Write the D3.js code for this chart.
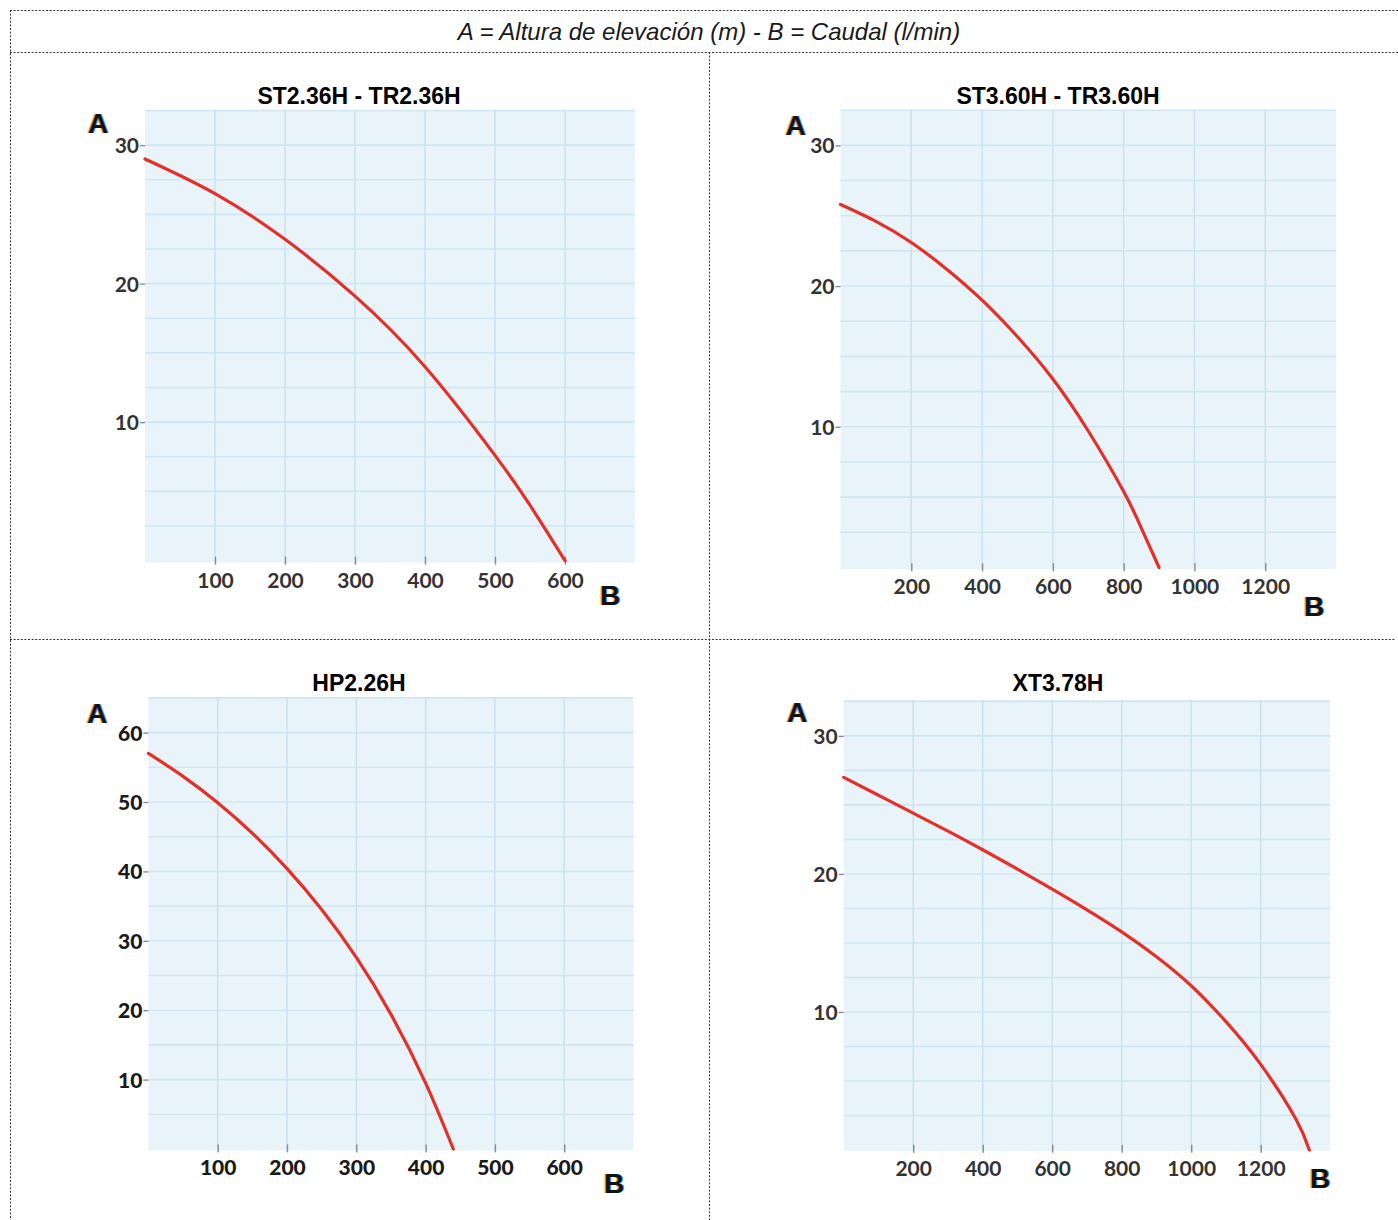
<!DOCTYPE html>
<html><head><meta charset="utf-8">
<script src="https://cdn.jsdelivr.net/npm/d3@7"></script>
<style>body{margin:0;background:#fff} svg{display:block}</style>
</head><body>
<svg id="c" width="1398" height="1220"></svg>
<script>
const headerText = "A = Altura de elevación (m) - B = Caudal (l/min)";
const titles = ["ST2.36H - TR2.36H", "ST3.60H - TR3.60H", "HP2.26H", "XT3.78H"];
const axisLetterY = "A";
const axisLetterX = "B";

// Panel 1: ST2.36H - TR2.36H
const flow1 = [0, 100, 200, 300, 400, 500, 550, 600];
const head1 = [29.0, 26.5, 23.2, 19.1, 14.0, 7.6, 4.0, 0];
const xTicks1 = [100, 200, 300, 400, 500, 600];
const yTicks1 = [10, 20, 30];

// Panel 2: ST3.60H - TR3.60H
const flow2 = [0, 100, 200, 300, 400, 500, 600, 700, 800, 850, 900];
const head2 = [25.8, 24.6, 23.1, 21.2, 19.0, 16.4, 13.4, 9.7, 5.4, 2.8, 0];
const xTicks2 = [200, 400, 600, 800, 1000, 1200];
const yTicks2 = [10, 20, 30];

// Panel 3: HP2.26H
const flow3 = [0, 50, 100, 150, 200, 250, 300, 350, 400, 440];
const head3 = [57.0, 53.7, 49.9, 45.5, 40.4, 34.5, 27.6, 19.4, 9.5, 0];
const xTicks3 = [100, 200, 300, 400, 500, 600];
const yTicks3 = [10, 20, 30, 40, 50, 60];

// Panel 4: XT3.78H
const flow4 = [0, 100, 200, 300, 400, 500, 600, 700, 800, 900, 1000, 1100, 1200, 1300, 1340];
const head4 = [27.0, 25.7, 24.4, 23.1, 21.75, 20.35, 18.9, 17.4, 15.8, 14.0, 11.9, 9.3, 6.2, 2.3, 0];
const xTicks4 = [200, 400, 600, 800, 1000, 1200];
const yTicks4 = [10, 20, 30];

const svg = d3.select("#c");

// dotted frame
const frame = svg.append("g").attr("stroke", "#333").attr("stroke-width", 1)
  .attr("stroke-dasharray", "2,1.6").attr("fill", "none");
[[10, 10.5, 1398, 10.5], [10, 52.5, 1398, 52.5], [10, 639.5, 1396, 639.5],
 [10.5, 10, 10.5, 1220], [709.5, 52, 709.5, 1220]].forEach(l => {
  frame.append("line").attr("x1", l[0]).attr("y1", l[1]).attr("x2", l[2]).attr("y2", l[3]);
});

svg.append("text").attr("x", 709).attr("y", 40).attr("text-anchor", "middle")
  .attr("font-family", "'Liberation Sans', Arial, sans-serif").attr("font-style", "italic")
  .attr("font-size", 24).attr("fill", "#1a1a1a").text(headerText);

const panels = [
  {title: titles[0], flow: flow1, head: head1, xTicks: xTicks1, yTicks: yTicks1, grid: 2.5,
   xDom: [0, 700], xRange: [145, 635], yDom: [-0.15, 32.5], yRange: [562.7, 110.5],
   titlePos: [359, 104], aPos: [98, 133], bPos: [610, 605], weight: 700, tcol: "#333"},
  {title: titles[1], flow: flow2, head: head2, xTicks: xTicks2, yTicks: yTicks2, grid: 2.5,
   xDom: [0, 1400], xRange: [840.5, 1336], yDom: [-0.13, 32.5], yRange: [569.3, 110.2],
   titlePos: [1058, 104], aPos: [795.5, 135], bPos: [1314, 616], weight: 700, tcol: "#333"},
  {title: titles[2], flow: flow3, head: head3, xTicks: xTicks3, yTicks: yTicks3, grid: 5,
   xDom: [0, 700], xRange: [148.4, 633.5], yDom: [-0.2, 65], yRange: [1150.4, 697.9],
   titlePos: [359, 690.5], aPos: [97, 722.5], bPos: [614, 1193], weight: 900, tcol: "#1a1a1a"},
  {title: titles[3], flow: flow4, head: head4, xTicks: xTicks4, yTicks: yTicks4, grid: 2.5,
   xDom: [0, 1400], xRange: [843.7, 1330.2], yDom: [-0.05, 32.6], yRange: [1150.7, 700],
   titlePos: [1058, 690.5], aPos: [797, 722], bPos: [1320, 1188], weight: 700, tcol: "#333"}
];

function fringeLetter(g, pos, t) {
  const base = {"font-family": "'Liberation Sans', Arial, sans-serif", "font-weight": 700, "font-size": 28, "text-anchor": "middle"};
  [[-1.2, "#d8901a", 0.85], [1.2, "#2a78e0", 0.85], [0, "#111", 1]].forEach(o => {
    const tx = g.append("text").attr("x", pos[0] + o[0]).attr("y", pos[1]).attr("fill", o[1]).attr("opacity", o[2]).text(t);
    Object.entries(base).forEach(([k, v]) => tx.attr(k, v));
  });
}

panels.forEach(p => {
  const x = d3.scaleLinear().domain(p.xDom).range(p.xRange);
  const y = d3.scaleLinear().domain(p.yDom).range(p.yRange);
  const g = svg.append("g");
  const x0 = x(p.xDom[0]), x1 = x(p.xDom[1]), yT = y(p.yDom[1]), yB = y(p.yDom[0]);

  g.append("rect").attr("x", x0).attr("y", yT).attr("width", x1 - x0).attr("height", yB - yT).attr("fill", "#e8f4fa");

  const hLines = d3.range(p.grid, p.yDom[1] + 1e-6, p.grid);
  g.selectAll("line.hg").data(hLines).join("line").attr("class", "hg")
    .attr("x1", x0).attr("x2", x1).attr("y1", d => y(d)).attr("y2", d => y(d))
    .attr("stroke", "#d0e7f3").attr("stroke-width", 1.6);
  g.selectAll("line.vg").data(p.xTicks).join("line").attr("class", "vg")
    .attr("x1", d => x(d)).attr("x2", d => x(d)).attr("y1", yT).attr("y2", yB)
    .attr("stroke", "#c6e2f2").attr("stroke-width", 1.4);

  const tickFont = "Lato, 'Open Sans', sans-serif";
  const xa = d3.axisBottom(x).tickValues(p.xTicks).tickFormat(d3.format("d"))
    .tickSizeInner(-7).tickSizeOuter(0).tickPadding(0);
  const xg = g.append("g").attr("transform", `translate(0,${yB})`).call(xa)
    .attr("font-family", tickFont).attr("font-size", 21).attr("font-weight", p.weight);
  xg.select(".domain").remove();
  xg.selectAll(".tick line").attr("stroke", "#8a8a8a").attr("stroke-width", 1.4).attr("y2", 2).attr("y1", -6);
  xg.selectAll(".tick text").attr("y", 25).attr("dy", 0).attr("fill", p.tcol);

  const ya = d3.axisLeft(y).tickValues(p.yTicks).tickFormat(d3.format("d"))
    .tickSizeInner(5).tickSizeOuter(0).tickPadding(1);
  const yg = g.append("g").attr("transform", `translate(${x0},0)`).call(ya)
    .attr("font-family", tickFont).attr("font-size", 21).attr("font-weight", p.weight);
  yg.select(".domain").remove();
  yg.selectAll(".tick line").attr("stroke", "#8a8a8a").attr("stroke-width", 1.4);
  yg.selectAll(".tick text").attr("fill", p.tcol).attr("dy", "0.36em");

  const pts = p.flow.map((f, i) => [f, p.head[i]]);
  const line = d3.line().x(d => x(d[0])).y(d => y(d[1])).curve(d3.curveNatural);
  g.append("path").attr("d", line(pts)).attr("fill", "none")
    .attr("stroke", "#e5302a").attr("stroke-width", 3.2).attr("stroke-linecap", "round");

  g.append("text").attr("x", p.titlePos[0]).attr("y", p.titlePos[1]).attr("text-anchor", "middle")
    .attr("font-family", "'Liberation Sans', Arial, sans-serif").attr("font-weight", 700)
    .attr("font-size", 23).attr("fill", "#000").text(p.title);

  fringeLetter(g, p.aPos, axisLetterY);
  fringeLetter(g, p.bPos, axisLetterX);
});
</script>
</body></html>
